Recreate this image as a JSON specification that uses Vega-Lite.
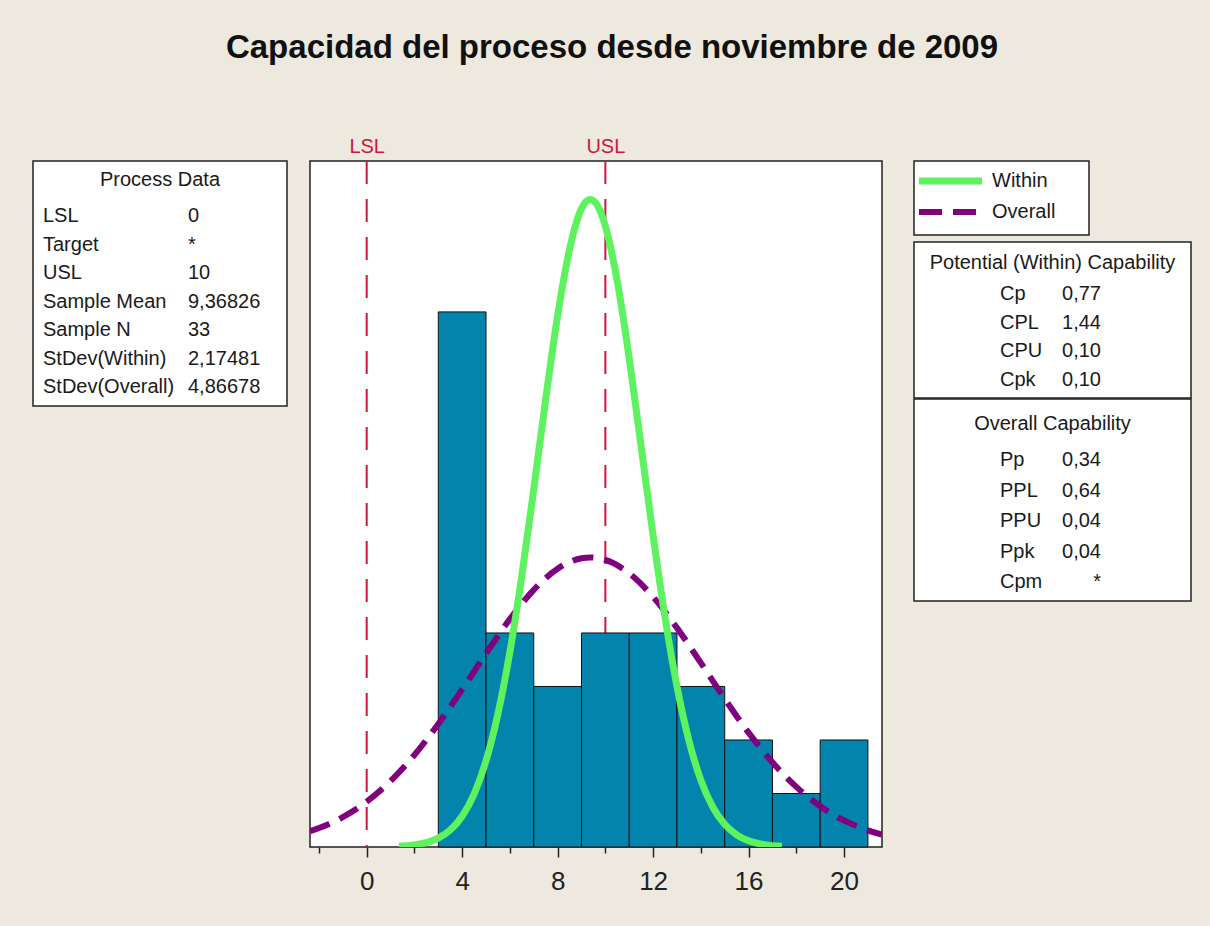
{
  "$schema": "https://vega.github.io/schema/vega-lite/v6.json",
  "background": "#EDE9DE",
  "padding": {"left": 32, "top": 32, "right": 32, "bottom": 34},
  "title": {"text": "Capacidad del proceso desde noviembre de 2009", "font": "Liberation Sans", "fontSize": 33, "fontWeight": "bold", "color": "#111", "anchor": "middle", "offset": 70},
  "config": {
    "font": "Liberation Sans",
    "view": {"fill": "white", "stroke": "#222", "strokeWidth": 1.5},
    "text": {"font": "Liberation Sans", "fontSize": 20, "color": "#1a1a1a", "baseline": "middle"},
    "title": {"font": "Liberation Sans"}
  },
  "spacing": 21,
  "hconcat": [
    {
      "width": 254,
      "height": 245,
      "title": {"text": "Process Data", "fontSize": 20, "fontWeight": "normal", "color": "#1a1a1a", "anchor": "middle", "frame": "group", "offset": -29},
      "data": {"values": [
        {"row": 0, "col": "label", "text": "LSL"}, {"row": 0, "col": "value", "text": "0"},
        {"row": 1, "col": "label", "text": "Target"}, {"row": 1, "col": "value", "text": "*"},
        {"row": 2, "col": "label", "text": "USL"}, {"row": 2, "col": "value", "text": "10"},
        {"row": 3, "col": "label", "text": "Sample Mean"}, {"row": 3, "col": "value", "text": "9,36826"},
        {"row": 4, "col": "label", "text": "Sample N"}, {"row": 4, "col": "value", "text": "33"},
        {"row": 5, "col": "label", "text": "StDev(Within)"}, {"row": 5, "col": "value", "text": "2,17481"},
        {"row": 6, "col": "label", "text": "StDev(Overall)"}, {"row": 6, "col": "value", "text": "4,86678"}
      ]},
      "mark": {"type": "text", "align": "left"},
      "encoding": {
        "x": {"field": "col", "type": "nominal", "scale": {"type": "point", "domain": ["label", "value"], "range": [10, 155], "padding": 0}, "axis": null},
        "y": {"field": "row", "type": "ordinal", "scale": {"type": "point", "range": [55, 226], "padding": 0}, "axis": null},
        "text": {"field": "text"}
      }
    },
    {
      "width": 572,
      "height": 686,
      "resolve": {"axis": {"x": "independent"}},
      "layer": [
        {
          "data": {"values": [{"name": "LSL", "v": 0}, {"name": "USL", "v": 10}]},
          "mark": {"type": "rule", "color": "#D0163E", "strokeWidth": 2, "strokeDash": [23, 15]},
          "encoding": {
            "x": {"field": "v", "type": "quantitative", "scale": {"domain": [-2.375, 21.59], "nice": false, "zero": false},
              "axis": {"orient": "top", "values": [0, 10], "labelExpr": "datum.value == 0 ? 'LSL' : 'USL'", "ticks": false, "domain": false, "grid": false, "labelColor": "#D0163E", "labelFontSize": 20, "labelPadding": 5, "title": null}}
          }
        },
        {
          "data": {"values": [
            {"lo": 3, "hi": 5, "n": 10}, {"lo": 5, "hi": 7, "n": 4}, {"lo": 7, "hi": 9, "n": 3},
            {"lo": 9, "hi": 11, "n": 4}, {"lo": 11, "hi": 13, "n": 4}, {"lo": 13, "hi": 15, "n": 3},
            {"lo": 15, "hi": 17, "n": 2}, {"lo": 17, "hi": 19, "n": 1}, {"lo": 19, "hi": 21, "n": 2}
          ]},
          "mark": {"type": "bar", "fill": "#0284AD", "stroke": "#111", "strokeWidth": 1},
          "encoding": {
            "x": {"field": "lo", "type": "quantitative",
              "axis": {"orient": "bottom", "values": [-2, 0, 2, 4, 6, 8, 10, 12, 14, 16, 18, 20], "labelExpr": "datum.value % 4 === 0 ? datum.label : ''",
                "tickSize": {"condition": {"test": "datum.value % 4 === 0", "value": 10}, "value": 6},
                "tickColor": "#222", "tickWidth": 1.5, "domain": false, "grid": false, "labelFontSize": 26, "labelColor": "#222", "labelPadding": 11, "title": null}},
            "x2": {"field": "hi"},
            "y": {"field": "n", "type": "quantitative", "scale": {"domain": [0, 12.82], "nice": false}, "axis": null},
            "y2": {"datum": 0}
          }
        },
        {
          "data": {"values": [
            {"x": -2.375, "y": 0.2945}, {"x": -2, "y": 0.354}, {"x": -1, "y": 0.56}, {"x": 0, "y": 0.848}, {"x": 1, "y": 1.234},
            {"x": 2, "y": 1.72}, {"x": 3, "y": 2.3}, {"x": 4, "y": 2.945}, {"x": 5, "y": 3.617}, {"x": 6, "y": 4.258},
            {"x": 7, "y": 4.806}, {"x": 8, "y": 5.2}, {"x": 9, "y": 5.395}, {"x": 9.368, "y": 5.41}, {"x": 10, "y": 5.365},
            {"x": 11, "y": 5.114}, {"x": 12, "y": 4.674}, {"x": 13, "y": 4.095}, {"x": 14, "y": 3.44}, {"x": 15, "y": 2.77},
            {"x": 16, "y": 2.137}, {"x": 17, "y": 1.582}, {"x": 18, "y": 1.123}, {"x": 19, "y": 0.763}, {"x": 20, "y": 0.498},
            {"x": 21, "y": 0.311}, {"x": 21.59, "y": 0.231}
          ]},
          "mark": {"type": "line", "stroke": "#800080", "strokeWidth": 6, "strokeDash": [21, 11], "interpolate": "monotone", "clip": true},
          "encoding": {
            "x": {"field": "x", "type": "quantitative", "axis": null},
            "y": {"field": "y", "type": "quantitative", "axis": null}
          }
        },
        {
          "data": {"values": [
            {"x": 1.35, "y": 0.0136}, {"x": 2, "y": 0.039}, {"x": 2.5, "y": 0.0827}, {"x": 3, "y": 0.166}, {"x": 3.5, "y": 0.318},
            {"x": 4, "y": 0.575}, {"x": 4.5, "y": 0.988}, {"x": 5, "y": 1.611}, {"x": 5.5, "y": 2.49}, {"x": 6, "y": 3.648},
            {"x": 6.5, "y": 5.07}, {"x": 7, "y": 6.69}, {"x": 7.5, "y": 8.37}, {"x": 8, "y": 9.93}, {"x": 8.5, "y": 11.17},
            {"x": 9, "y": 11.93}, {"x": 9.368, "y": 12.1}, {"x": 9.75, "y": 11.92}, {"x": 10, "y": 11.6}, {"x": 10.5, "y": 10.57},
            {"x": 11, "y": 9.13}, {"x": 11.5, "y": 7.48}, {"x": 12, "y": 5.82}, {"x": 12.5, "y": 4.29}, {"x": 13, "y": 3.0},
            {"x": 13.5, "y": 1.99}, {"x": 14, "y": 1.25}, {"x": 14.5, "y": 0.748}, {"x": 15, "y": 0.424}, {"x": 15.5, "y": 0.2275},
            {"x": 16, "y": 0.116}, {"x": 16.5, "y": 0.056}, {"x": 17, "y": 0.0257}, {"x": 17.4, "y": 0.013}
          ]},
          "mark": {"type": "line", "stroke": "#5EF25E", "strokeWidth": 7, "interpolate": "monotone", "clip": true},
          "encoding": {
            "x": {"field": "x", "type": "quantitative", "axis": null},
            "y": {"field": "y", "type": "quantitative", "axis": null}
          }
        }
      ]
    },
    {
      "spacing": 5,
      "vconcat": [
        {
          "width": 175,
          "height": 74,
          "data": {"values": [
            {"series": "Within", "pt": "a"}, {"series": "Within", "pt": "b"},
            {"series": "Overall", "pt": "a"}, {"series": "Overall", "pt": "b"}
          ]},
          "encoding": {
            "x": {"field": "pt", "type": "nominal", "scale": {"type": "point", "domain": ["a", "b"], "range": [5, 68], "padding": 0}, "axis": null},
            "y": {"field": "series", "type": "nominal", "scale": {"type": "point", "domain": ["Within", "Overall"], "range": [20, 51], "padding": 0}, "axis": null}
          },
          "layer": [
            {"transform": [{"filter": "datum.series === 'Within'"}], "mark": {"type": "line", "stroke": "#5EF25E", "strokeWidth": 7}},
            {"transform": [{"filter": "datum.series === 'Overall'"}], "mark": {"type": "line", "stroke": "#800080", "strokeWidth": 6, "strokeDash": [23, 11]}},
            {"transform": [{"filter": "datum.pt === 'b'"}], "mark": {"type": "text", "align": "left", "dx": 10}, "encoding": {"text": {"field": "series"}}}
          ]
        },
        {
          "spacing": -1.5,
          "vconcat": [
            {
              "width": 277,
              "height": 156,
              "title": {"text": "Potential (Within) Capability", "fontSize": 20, "fontWeight": "normal", "color": "#1a1a1a", "anchor": "middle", "frame": "group", "offset": -31},
              "data": {"values": [
                {"row": 0, "col": "label", "text": "Cp"}, {"row": 0, "col": "value", "text": "0,77"},
                {"row": 1, "col": "label", "text": "CPL"}, {"row": 1, "col": "value", "text": "1,44"},
                {"row": 2, "col": "label", "text": "CPU"}, {"row": 2, "col": "value", "text": "0,10"},
                {"row": 3, "col": "label", "text": "Cpk"}, {"row": 3, "col": "value", "text": "0,10"}
              ]},
              "encoding": {
                "x": {"field": "col", "type": "nominal", "scale": {"type": "point", "domain": ["label", "value"], "range": [86, 187], "padding": 0}, "axis": null},
                "y": {"field": "row", "type": "ordinal", "scale": {"type": "point", "range": [52, 137.5], "padding": 0}, "axis": null},
                "text": {"field": "text"}
              },
              "layer": [
                {"transform": [{"filter": "datum.col === 'label'"}], "mark": {"type": "text", "align": "left"}},
                {"transform": [{"filter": "datum.col === 'value'"}], "mark": {"type": "text", "align": "right"}}
              ]
            },
            {
              "width": 277,
              "height": 202,
              "title": {"text": "Overall Capability", "fontSize": 20, "fontWeight": "normal", "color": "#1a1a1a", "anchor": "middle", "frame": "group", "offset": -35},
              "data": {"values": [
                {"row": 0, "col": "label", "text": "Pp"}, {"row": 0, "col": "value", "text": "0,34"},
                {"row": 1, "col": "label", "text": "PPL"}, {"row": 1, "col": "value", "text": "0,64"},
                {"row": 2, "col": "label", "text": "PPU"}, {"row": 2, "col": "value", "text": "0,04"},
                {"row": 3, "col": "label", "text": "Ppk"}, {"row": 3, "col": "value", "text": "0,04"},
                {"row": 4, "col": "label", "text": "Cpm"}, {"row": 4, "col": "value", "text": "*"}
              ]},
              "encoding": {
                "x": {"field": "col", "type": "nominal", "scale": {"type": "point", "domain": ["label", "value"], "range": [86, 187], "padding": 0}, "axis": null},
                "y": {"field": "row", "type": "ordinal", "scale": {"type": "point", "range": [61, 183], "padding": 0}, "axis": null},
                "text": {"field": "text"}
              },
              "layer": [
                {"transform": [{"filter": "datum.col === 'label'"}], "mark": {"type": "text", "align": "left"}},
                {"transform": [{"filter": "datum.col === 'value'"}], "mark": {"type": "text", "align": "right"}}
              ]
            }
          ]
        }
      ]
    }
  ]
}
